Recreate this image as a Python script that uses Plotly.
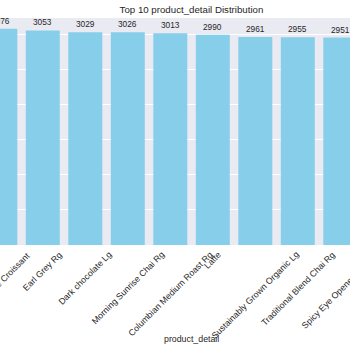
import plotly.graph_objects as go

categories = ["Chocolate Croissant", "Earl Grey Rg", "Dark chocolate Lg",
              "Morning Sunrise Chai Rg", "Columbian Medium Roast Rg", "Latte",
              "Sustainably Grown Organic Lg", "Traditional Blend Chai Rg",
              "Spicy Eye Opener Chai Lg", "Ethiopia Rg"]
counts = [3076, 3053, 3029, 3026, 3013, 2990, 2961, 2955, 2951, 2940]

TEXT = "#262626"
FONT = "Liberation Sans, Arial, sans-serif"

xs = list(range(len(categories)))
fig = go.Figure(go.Bar(x=xs, y=counts, width=0.8, marker=dict(color="#87CEEB", line=dict(width=0)),
                       hoverinfo="skip"))

ann = []
for i, (c, v) in enumerate(zip(categories, counts)):
    ann.append(dict(x=i, y=v, xref="x", yref="y", text=str(v), showarrow=False,
                    xanchor="center", yanchor="bottom", yshift=1,
                    font=dict(size=8.3, color=TEXT, family=FONT)))
    ann.append(dict(x=i, y=0, xref="x", yref="paper", text=c, showarrow=False,
                    textangle=-45, xanchor="center", yanchor="top", yshift=-2,
                    font=dict(size=8.8, color=TEXT, family=FONT)))

ann.append(dict(x=191.5 / 350, y=-94 / 227, xref="paper", yref="paper", text="product_detail",
                showarrow=False, xanchor="center", yanchor="middle",
                font=dict(size=8.8, color=TEXT, family=FONT)))

left = -0.3 / 42.5
fig.update_layout(
    width=350, height=350,
    margin=dict(l=0, r=0, t=18, b=105),
    paper_bgcolor="white", plot_bgcolor="#EAEAF2",
    showlegend=False,
    title=dict(text="Top 10 product_detail Distribution", xref="container", yref="container",
               x=191.5 / 350, y=1 - 9.5 / 350, xanchor="center", yanchor="middle",
               font=dict(size=9.7, color=TEXT, family=FONT)),
    xaxis=dict(range=[left, left + 350 / 42.5], showticklabels=False, showgrid=False,
               zeroline=False, ticks=""),
    yaxis=dict(range=[0, 3230], dtick=500, showticklabels=False, showgrid=True,
               gridcolor="white", gridwidth=1, zeroline=False, ticks=""),
    annotations=ann,
)
fig.write_html("out.html")
